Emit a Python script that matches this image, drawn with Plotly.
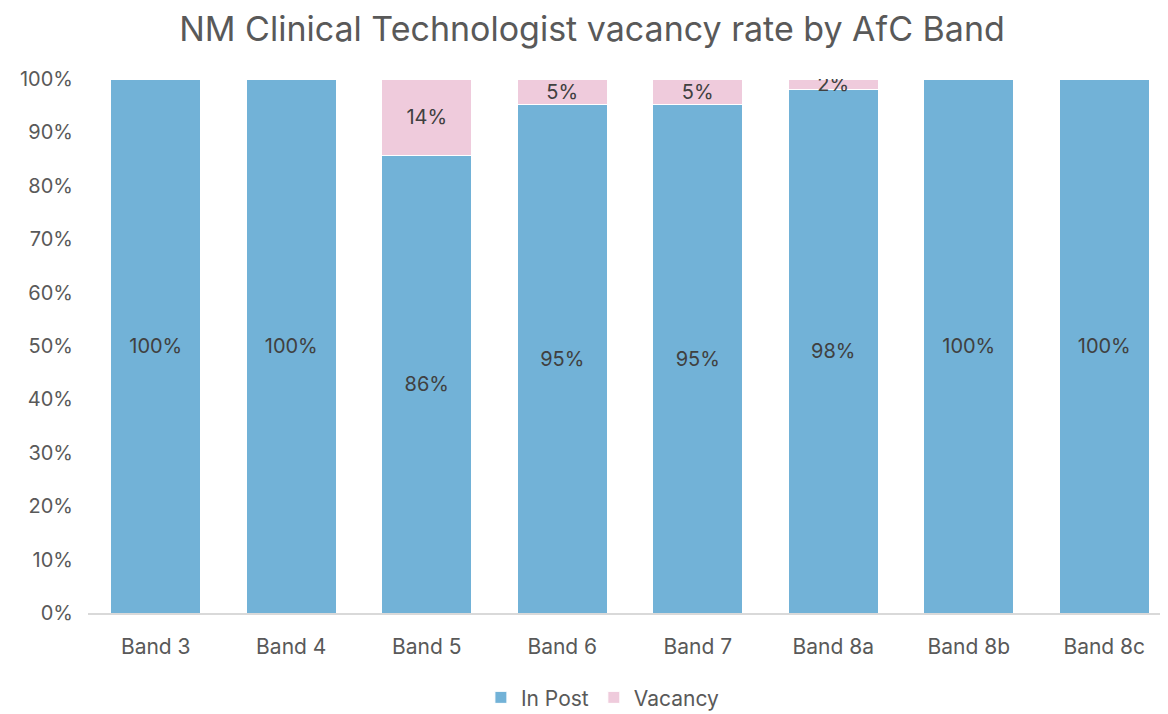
import plotly.graph_objects as go

categories = ["Band 3", "Band 4", "Band 5", "Band 6", "Band 7", "Band 8a", "Band 8b", "Band 8c"]
in_post = [100, 100, 85.7, 95.3, 95.3, 98.1, 100, 100]
vacancy = [0, 0, 14.3, 4.7, 4.7, 1.9, 0, 0]
tick_vals = [0, 10, 20, 30, 40, 50, 60, 70, 80, 90, 100]
tick_text = [f"{v}%" for v in tick_vals]

FONT = "Inter, Lato, sans-serif"
TXT = "#404040"
GREY = "#595959"

def labels(vals):
    return [f"{round(v)}%" if v > 0 else "" for v in vals]

fig = go.Figure()
fig.add_trace(go.Bar(
    name="In Post", x=categories, y=in_post,
    marker=dict(color="#72b2d7", line=dict(color="white", width=1)),
    text=labels(in_post), textposition="inside", insidetextanchor="middle",
    textfont=dict(family=FONT, size=20, color=TXT), textangle=0,
    hoverinfo="x+y",
))
fig.add_trace(go.Bar(
    name="Vacancy", x=categories, y=vacancy,
    marker=dict(color="#efcbdc", line=dict(color="white", width=1)),
    text=labels(vacancy), textposition="inside", insidetextanchor="middle",
    textfont=dict(family=FONT, size=20, color=TXT), textangle=0,
    hoverinfo="x+y",
))

fig.update_layout(
    barmode="stack",
    bargap=0.335,
    width=1168, height=714,
    margin=dict(l=80, r=4, t=71, b=109),
    paper_bgcolor="white", plot_bgcolor="white",
    uniformtext=dict(minsize=20, mode="show"),
    title=dict(text="NM Clinical Technologist vacancy rate by AfC Band",
               x=0.5, xanchor="center", y=0.97, yanchor="middle",
               font=dict(family=FONT, size=34, color=GREY)),
    font=dict(family=FONT, size=21, color=GREY),
    legend=dict(orientation="h", x=0.475, xanchor="center",
                yref="container", y=0.034, yanchor="middle",
                font=dict(family=FONT, size=21, color=GREY),
                traceorder="normal", itemwidth=30),
    xaxis=dict(showgrid=False, showline=True, linecolor="#d9d9d9", linewidth=2,
               ticks="", ticklabelstandoff=14,
               tickfont=dict(family=FONT, size=21, color=GREY)),
    yaxis=dict(range=[0, 100], tickvals=tick_vals, ticktext=tick_text,
               showgrid=False, zeroline=False, showline=False, ticks="",
               ticklabelstandoff=14,
               tickfont=dict(family=FONT, size=20, color=GREY)),
)

fig.write_html("out.html")
